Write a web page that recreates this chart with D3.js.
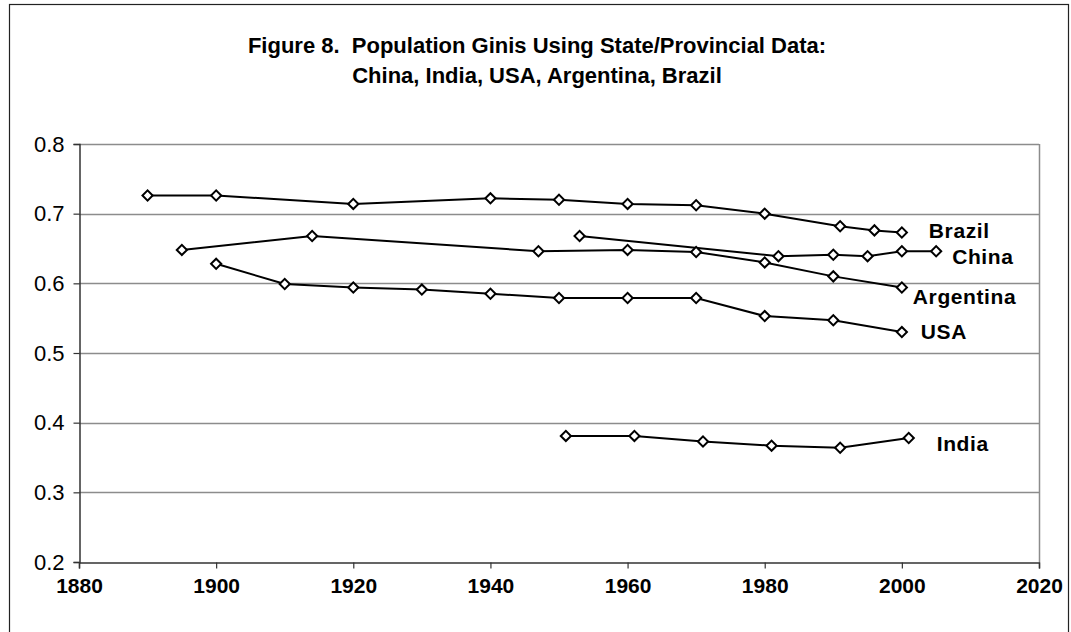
<!DOCTYPE html>
<html>
<head>
<meta charset="utf-8">
<script src="https://cdn.jsdelivr.net/npm/d3@7"></script>
<style>
  html, body { margin: 0; padding: 0; background: #fff; }
  svg { display: block; }
  text { font-family: "Liberation Sans", Arial, sans-serif; }
</style>
</head>
<body>
<div id="chart"></div>
<script>
// ---- Data ----
const titleLines = ["Figure 8.  Population Ginis Using State/Provincial Data:",
                    "China, India, USA, Argentina, Brazil"];
const xTicks = [1880, 1900, 1920, 1940, 1960, 1980, 2000, 2020];
const yTicks = [0.2, 0.3, 0.4, 0.5, 0.6, 0.7, 0.8];

const brazilYears = [1890, 1900, 1920, 1940, 1950, 1960, 1970, 1980, 1991, 1996, 2000];
const brazilGini  = [0.726, 0.726, 0.714, 0.722, 0.720, 0.714, 0.712, 0.700, 0.682, 0.676, 0.673];

const chinaYears = [1953, 1982, 1990, 1995, 2000, 2005];
const chinaGini  = [0.668, 0.639, 0.641, 0.639, 0.646, 0.646];

const argentinaYears = [1895, 1914, 1947, 1960, 1970, 1980, 1990, 2000];
const argentinaGini  = [0.648, 0.668, 0.646, 0.648, 0.645, 0.630, 0.610, 0.594];

const usaYears = [1900, 1910, 1920, 1930, 1940, 1950, 1960, 1970, 1980, 1990, 2000];
const usaGini  = [0.628, 0.599, 0.594, 0.591, 0.585, 0.579, 0.579, 0.579, 0.553, 0.547, 0.530];

const indiaYears = [1951, 1961, 1971, 1981, 1991, 2001];
const indiaGini  = [0.381, 0.381, 0.373, 0.367, 0.364, 0.378];

const seriesNames = ["Brazil", "China", "Argentina", "USA", "India"];

// ---- Build series ----
const series = [
  {name: seriesNames[0], pts: brazilYears.map((y, i) => ({x: y, v: brazilGini[i]}))},
  {name: seriesNames[1], pts: chinaYears.map((y, i) => ({x: y, v: chinaGini[i]}))},
  {name: seriesNames[2], pts: argentinaYears.map((y, i) => ({x: y, v: argentinaGini[i]}))},
  {name: seriesNames[3], pts: usaYears.map((y, i) => ({x: y, v: usaGini[i]}))},
  {name: seriesNames[4], pts: indiaYears.map((y, i) => ({x: y, v: indiaGini[i]}))}
];

// label offsets relative to each series' last point (styling)
const labelOffset = {
  Brazil:    {dx: 27, dy: 6},
  China:     {dx: 16, dy: 13},
  Argentina: {dx: 11, dy: 16},
  USA:       {dx: 19, dy: 7},
  India:     {dx: 28, dy: 13}
};

const W = 1071, H = 632;
const plot = {left: 79, right: 1039, top: 144, bottom: 562};

const svg = d3.select("#chart").append("svg")
  .attr("width", W).attr("height", H);

svg.append("rect").attr("x", 0).attr("y", 0).attr("width", W).attr("height", H).attr("fill", "#fff");

// outer frame
svg.append("rect")
  .attr("x", 9.5).attr("y", 4.5)
  .attr("width", 1059).attr("height", 640)
  .attr("fill", "none").attr("stroke", "#222").attr("stroke-width", 1.2);

// title
svg.append("g").selectAll("text").data(titleLines).join("text")
  .attr("x", 537).attr("y", (d, i) => 53 + i * 30)
  .attr("text-anchor", "middle")
  .attr("font-weight", "bold").attr("font-size", 22)
  .attr("fill", "#000")
  .style("white-space", "pre")
  .attr("xml:space", "preserve")
  .text(d => d);

const x = d3.scaleLinear().domain([1880, 2020]).range([plot.left, plot.right]);
const y = d3.scaleLinear().domain([0.2, 0.8]).range([plot.bottom, plot.top]);

// gridlines
svg.append("g").selectAll("line").data(yTicks.filter(t => t > 0.2)).join("line")
  .attr("x1", plot.left).attr("x2", plot.right)
  .attr("y1", d => Math.round(y(d)) + 0.5).attr("y2", d => Math.round(y(d)) + 0.5)
  .attr("stroke", "#8c8c8c").attr("stroke-width", 1.3);

// right border of plot
svg.append("line")
  .attr("x1", plot.right + 0.5).attr("x2", plot.right + 0.5)
  .attr("y1", plot.top).attr("y2", plot.bottom)
  .attr("stroke", "#8c8c8c").attr("stroke-width", 1.5);

// axes
const yAxis = d3.axisLeft(y).tickValues(yTicks).tickSize(6).tickPadding(9)
  .tickFormat(d3.format(".1f"));
const gy = svg.append("g").attr("transform", `translate(${plot.left + 0.5},0)`).call(yAxis);
gy.select(".domain").attr("stroke", "#333").attr("stroke-width", 1.5);
gy.selectAll(".tick line").attr("stroke", "#333").attr("stroke-width", 1.2);
gy.selectAll(".tick text").attr("font-size", 22).attr("fill", "#000")
  .attr("font-family", "Liberation Sans, Arial, sans-serif");

const xAxis = d3.axisBottom(x).tickValues(xTicks).tickSize(6).tickPadding(10)
  .tickFormat(d3.format("d"));
const gx = svg.append("g").attr("transform", `translate(0,${plot.bottom + 0.5})`).call(xAxis);
gx.select(".domain").attr("stroke", "#333").attr("stroke-width", 1.5);
gx.selectAll(".tick line").attr("stroke", "#333").attr("stroke-width", 1.2);
gx.selectAll(".tick text").attr("font-size", 21).attr("font-weight", "bold").attr("fill", "#000")
  .attr("font-family", "Liberation Sans, Arial, sans-serif");

// lines
const line = d3.line().x(d => x(d.x)).y(d => y(d.v));
svg.append("g").selectAll("path").data(series).join("path")
  .attr("d", d => line(d.pts))
  .attr("fill", "none").attr("stroke", "#000").attr("stroke-width", 2);

// markers (white diamonds)
const marker = d3.symbol().type(d3.symbolSquare).size(52)();
series.forEach(s => {
  svg.append("g").selectAll("path").data(s.pts).join("path")
    .attr("transform", d => `translate(${x(d.x)},${y(d.v)}) rotate(45)`)
    .attr("d", marker)
    .attr("fill", "#fff").attr("stroke", "#000").attr("stroke-width", 2);
});

// series labels
svg.append("g").selectAll("text").data(series).join("text")
  .attr("x", d => x(d.pts[d.pts.length - 1].x) + labelOffset[d.name].dx)
  .attr("y", d => y(d.pts[d.pts.length - 1].v) + labelOffset[d.name].dy)
  .attr("font-size", 21).attr("font-weight", "bold").attr("fill", "#000")
  .attr("letter-spacing", 0.6)
  .text(d => d.name);
</script>
</body>
</html>
